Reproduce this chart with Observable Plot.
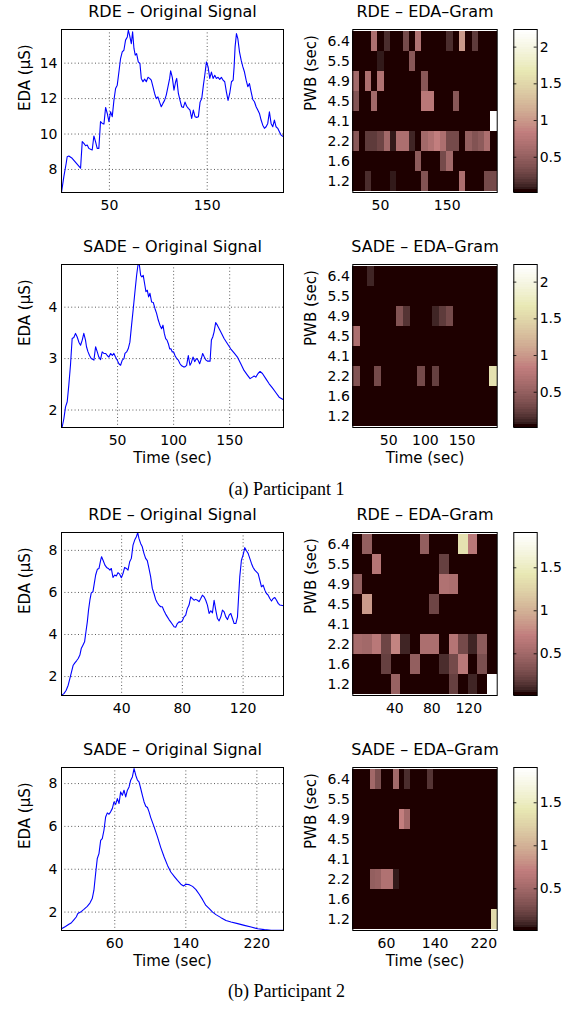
<!DOCTYPE html>
<html><head><meta charset="utf-8">
<script src="https://cdn.jsdelivr.net/npm/d3@7"></script>
<script src="https://cdn.jsdelivr.net/npm/@observablehq/plot@0.6"></script>
<style>
body{margin:0;background:#fff;}
#chart{position:relative;width:573px;height:1010px;overflow:hidden;font-family:"DejaVu Sans",sans-serif;}
#chart svg{position:absolute;}
.cap{position:absolute;left:0;width:573px;text-align:center;font-family:"Liberation Serif",serif;font-size:18px;line-height:18px;color:#000;}
</style></head><body><div id="chart"></div>
<script>
// ---------- Participant 1, RDE: original signal ----------
const p1RdeTime = [1.0,3.4,5.8,6.8,8.5,11.9,20.5,22.2,23.9,25.6,27.3,29.0,30.7,32.4,34.1,35.8,37.5,39.2,40.9,42.7,44.4,46.1,47.8,49.5,51.2,52.9,54.6,56.3,58.0,59.7,61.4,63.1,64.8,66.5,68.3,69.3,70.6,72.4,73.7,75.1,76.4,77.8,79.5,81.2,82.6,84.3,86.0,87.7,89.4,91.1,92.8,94.5,96.2,97.9,99.6,101.3,103.0,104.7,106.4,108.1,109.9,111.6,112.6,114.3,116.0,117.7,118.8,120.5,122.2,123.9,125.6,127.3,129.0,130.7,132.4,134.1,135.8,137.5,139.2,141.0,142.7,144.4,146.1,147.5,149.2,150.9,152.6,154.3,156.0,157.7,159.4,161.1,162.8,164.5,166.2,167.9,169.6,171.3,173.0,174.8,176.5,177.5,178.5,179.9,181.3,183.0,184.7,186.4,188.1,189.8,191.5,193.2,194.9,196.6,198.3,200.0,201.7,203.4,205.1,206.8,208.5,210.2,211.9,213.6,215.3,217.0,218.7,220.4,222.1,223.8,225.5,228.0];
const p1RdeEda = [6.71,7.6,8.35,8.72,8.76,8.63,8.07,9.57,9.47,9.34,9.38,9.19,9.14,9.1,9.89,9.57,9.19,9.19,10.7,10.6,10.56,11.5,11.16,10.7,11.26,10.98,11.9,12.57,12.76,13.5,14.26,14.64,14.73,15.3,15.48,15.86,15.58,15.1,15.77,14.83,14.45,14.54,14.07,13.98,13.14,12.95,13.1,12.95,13.2,13.14,13.04,12.67,12.29,12.0,12.1,11.8,11.54,11.73,11.9,12.2,12.67,13.14,13.57,13.2,12.48,12.95,13.14,12.29,11.9,11.54,11.5,11.8,11.57,11.45,11.35,10.88,11.35,10.98,10.94,10.98,11.8,12.0,12.76,13.32,14.07,13.79,13.14,13.5,13.14,13.32,13.14,13.2,13.08,13.2,13.04,12.95,12.38,11.9,12.29,12.95,13.04,13.79,14.92,15.67,15.39,14.64,14.17,13.8,13.5,13.04,12.67,12.85,12.38,11.95,11.82,11.54,11.35,11.16,10.79,10.5,10.32,10.41,10.6,11.26,10.6,10.41,10.79,10.41,10.32,10.13,9.94,9.85];

// ---------- Participant 1, SADE: original signal ----------
const p1SadeTime = [0.6,2.1,3.6,5.1,6.5,8.0,9.5,11.0,12.5,14.0,15.5,17.0,18.5,19.9,21.4,22.3,23.5,25.0,26.5,28.9,30.4,31.9,33.3,34.8,36.3,37.8,39.3,40.8,42.3,43.8,45.3,46.7,48.2,49.7,51.2,52.7,54.2,55.7,56.6,58.1,59.5,61.0,62.5,64.0,65.5,67.0,68.2,69.4,70.6,71.7,72.9,74.1,75.3,76.5,77.7,78.9,80.4,81.9,83.4,84.8,86.3,87.8,89.3,90.5,91.7,92.9,94.1,95.3,96.5,97.6,98.8,100.0,101.2,102.7,104.2,105.7,107.2,108.7,110.1,111.6,113.1,114.6,115.8,117.3,118.8,120.3,121.8,123.2,124.7,125.9,127.4,128.9,130.4,132.5,133.7,134.9,136.1,137.5,139.0,142.0,145.0,148.0,150.9,153.9,156.9,159.9,162.8,165.8,168.2,170.3,171.8,173.3,175.3,177.1,179.2,182.2,185.2,188.1,191.1,194.1,198.0];
const p1SadeEda = [1.67,1.83,2.06,2.16,2.48,2.87,3.39,3.41,3.49,3.42,3.32,3.26,3.36,3.49,3.36,3.23,3.14,3.06,3.0,2.97,3.23,3.13,3.03,2.98,3.13,3.1,3.1,3.06,3.03,3.1,3.06,3.1,3.03,2.97,2.9,2.87,2.97,3.0,3.1,3.13,3.19,3.32,3.65,3.97,4.3,4.62,4.82,4.83,4.62,4.59,4.62,4.46,4.3,4.33,4.2,4.27,4.1,4.09,3.97,3.88,3.75,3.65,3.58,3.65,3.49,3.39,3.36,3.29,3.19,3.19,3.13,3.13,3.06,3.0,2.97,2.9,2.86,2.84,2.84,2.87,3.06,2.87,2.92,3.03,2.94,3.0,2.97,2.9,3.0,3.1,3.03,2.97,2.95,2.95,3.36,3.42,3.52,3.7,3.65,3.52,3.39,3.29,3.19,3.11,3.03,2.9,2.77,2.68,2.61,2.64,2.66,2.64,2.71,2.75,2.71,2.61,2.51,2.43,2.34,2.25,2.2];

// ---------- Participant 2, RDE: original signal ----------
const p2RdeTime = [0.4,2.0,3.5,4.8,5.9,7.0,8.1,9.2,10.3,11.4,12.5,13.4,14.5,15.6,16.5,17.4,18.2,19.1,20.0,21.1,22.0,22.9,24.0,25.1,26.2,26.8,27.9,29.0,30.1,31.2,32.3,33.2,34.3,35.4,36.5,37.6,38.7,39.8,40.9,42.0,43.1,44.2,45.3,46.4,47.5,48.6,49.7,50.6,51.4,52.5,53.6,54.7,55.8,56.9,58.0,59.1,60.2,61.3,62.4,63.5,64.6,65.7,66.8,67.9,69.0,70.1,71.2,72.3,73.4,74.5,75.6,76.7,77.8,78.9,80.0,81.1,82.2,83.3,84.4,85.5,86.6,87.7,88.8,89.9,91.0,92.1,93.2,94.3,95.4,96.5,97.6,98.7,99.8,100.9,102.0,103.1,104.2,105.3,106.4,107.5,108.6,109.7,110.8,111.9,113.0,114.1,115.2,116.3,116.9,117.8,118.9,120.0,121.1,122.2,123.3,124.4,125.5,126.6,127.7,128.8,129.9,131.0,132.1,133.2,134.3,135.4,136.5,137.6,138.7,139.8,140.9,142.0,143.1,144.2,146.6];
const p2RdeEda = [1.11,1.19,1.35,1.59,1.9,2.22,2.54,2.65,2.75,2.86,3.02,3.33,3.49,3.65,4.13,4.6,5.16,5.63,5.98,6.03,6.43,6.83,7.1,7.14,7.54,7.7,7.51,7.3,7.19,7.14,7.06,7.14,6.71,6.83,6.78,6.94,6.87,6.7,6.9,7.19,7.14,7.06,7.46,7.62,8.25,8.49,8.65,8.84,8.57,8.33,8.17,7.86,7.62,7.51,7.14,6.75,6.19,5.95,5.67,5.51,5.4,5.32,5.32,5.13,4.97,4.84,4.71,4.6,4.49,4.37,4.35,4.52,4.6,4.59,4.65,4.84,4.92,5.24,5.4,5.79,5.71,5.63,5.67,5.63,5.56,5.71,5.87,5.79,5.63,5.4,5.0,5.13,5.03,5.63,5.16,4.76,4.65,4.84,5.16,5.08,4.84,4.71,4.92,5.0,4.76,4.52,4.52,4.84,5.63,6.75,7.54,7.78,8.13,7.98,7.86,7.62,7.38,7.19,7.06,6.98,6.9,6.59,6.27,6.35,6.11,5.95,5.87,5.71,5.59,5.71,5.76,5.63,5.48,5.4,5.37];

// ---------- Participant 2, SADE: original signal ----------
const p2SadeTime = [0,4.5,8.3,10.9,13.9,16.6,18.4,21.5,25.2,29.0,32.0,34.6,36.5,38.4,40.3,42.2,44.1,45.9,47.8,49.7,51.6,53.5,55.3,57.2,59.1,61.0,62.9,64.8,66.6,68.5,70.4,72.3,74.2,76.1,77.9,79.8,81.7,83.6,85.5,87.3,89.2,91.1,93.0,94.9,96.8,98.6,100.5,104.3,108.1,111.8,115.6,119.4,123.1,126.9,130.6,134.4,137.4,140.1,143.8,147.6,151.4,155.1,158.9,162.6,166.4,170.2,173.9,179.6,185.2,190.9,198.4,205.9,213.5,221.0,228.5,236.1,250.0];
const p2SadeEda = [1.22,1.33,1.43,1.49,1.64,1.77,1.93,2.0,2.13,2.27,2.42,2.63,3.02,3.79,4.5,4.73,5.35,5.43,5.82,6.44,6.63,6.57,6.68,6.83,7.14,7.03,7.3,7.07,7.61,7.45,7.69,7.38,7.69,7.84,8.16,8.31,8.7,8.39,8.16,8.08,7.77,7.45,7.14,6.94,6.88,6.68,6.41,5.98,5.51,5.01,4.57,4.18,3.87,3.67,3.48,3.3,3.22,3.3,3.28,3.2,3.05,2.83,2.58,2.31,2.16,2.0,1.88,1.74,1.61,1.54,1.46,1.38,1.3,1.22,1.18,1.15,1.15];

// ---------- EDA-Gram rows (PWB, sec), top to bottom ----------
const pwbRows = ["6.4","5.5","4.9","4.5","4.1","2.2","1.6","1.2"];

// Participant 1, RDE EDA-Gram (23 windows)
const hmP1Rde = [
  [0,0,0,.65,0,.15,0,0,.3,0,.7,0,0,0,0,.15,0,1.0,0,.22,0,0,0],
  [0,0,0,0,.08,0,0,0,0,.42,0,0,0,0,0,0,0,0,0,0,0,0,0],
  [.6,0,.65,0,.7,0,0,0,0,0,0,.42,0,0,0,0,0,0,0,0,0,0,0],
  [.38,0,0,.6,0,0,0,0,0,0,0,.75,.75,0,0,0,.42,0,0,0,0,0,0],
  [0,0,0,0,0,0,0,0,0,0,0,0,0,0,0,0,0,0,0,0,0,0,2.24],
  [.42,0,.22,.22,.27,.6,.08,.65,.65,.12,0,.6,.7,.85,.65,.3,.3,0,.5,.4,.45,.65,0],
  [0,0,0,0,0,0,0,0,0,0,.45,0,0,0,.3,.6,0,0,0,0,0,0,0],
  [0,0,.15,0,0,0,.08,0,0,0,0,.38,0,0,0,0,0,.65,0,0,0,.3,.3]
];
// Participant 1, SADE EDA-Gram (20 windows)
const hmP1Sade = [
  [0,0,.1,0,0,0,0,0,0,0,0,0,0,0,0,0,0,0,0,0],
  [0,0,0,0,0,0,0,0,0,0,0,0,0,0,0,0,0,0,0,0],
  [0,0,0,0,0,0,.4,.18,0,0,0,.12,.22,.3,0,0,0,0,0,0],
  [.65,0,0,0,0,0,0,0,0,0,0,0,0,0,0,0,0,0,0,0],
  [0,0,0,0,0,0,0,0,0,0,0,0,0,0,0,0,0,0,0,0],
  [.4,0,0,.3,0,0,0,0,0,.3,0,.25,0,0,0,0,0,0,0,1.6],
  [0,0,0,0,0,0,0,0,0,0,0,0,0,0,0,0,0,0,0,0],
  [0,0,0,0,0,0,0,0,0,0,0,0,0,0,0,0,0,0,0,0]
];
// Participant 2, RDE EDA-Gram (15 windows)
const hmP2Rde = [
  [0,.4,0,0,0,0,0,.4,0,0,0,1.36,.65,0,0],
  [0,0,.62,0,0,0,0,0,0,.2,0,0,0,0,0],
  [.4,0,0,0,0,0,0,0,0,.58,.55,0,0,0,0],
  [0,.85,0,0,0,0,0,0,.25,0,0,0,0,0,0],
  [0,0,0,0,0,0,0,0,0,0,0,0,0,0,0],
  [.52,.5,.65,.25,.75,.08,0,.56,.56,0,.62,.28,.08,.38,0],
  [0,0,0,.22,0,0,.42,0,0,.12,.28,.65,0,.3,0],
  [0,0,0,0,.45,0,0,0,0,0,.2,0,.1,0,1.91]
];
// Participant 2, SADE EDA-Gram (25 windows)
const hmP2Sade = [
  [0,0,0,.5,.3,0,0,.5,0,.12,0,0,0,.15,0,0,0,0,0,0,0,0,0,0,0],
  [0,0,0,0,0,0,0,0,0,0,0,0,0,0,0,0,0,0,0,0,0,0,0,0,0],
  [0,0,0,0,0,0,0,0,.72,.5,0,0,0,0,0,0,0,0,0,0,0,0,0,0,0],
  [0,0,0,0,0,0,0,0,0,0,0,0,0,0,0,0,0,0,0,0,0,0,0,0,0],
  [0,0,0,0,0,0,0,0,0,0,0,0,0,0,0,0,0,0,0,0,0,0,0,0,0],
  [0,0,0,.42,.45,.58,.58,.06,0,0,0,0,0,0,0,0,0,0,0,0,0,0,0,0,0],
  [0,0,0,0,0,0,0,0,0,0,0,0,0,0,0,0,0,0,0,0,0,0,0,0,0],
  [0,0,0,0,0,0,0,0,0,0,0,0,0,0,0,0,0,0,0,0,0,0,0,0,1.3]
];

// colour limits and ticks
const cLimP1 = [0.02, 2.24], cTicksP1 = [0.5, 1, 1.5, 2];
const cLimP2 = [0.015, 1.91], cTicksP2 = [0.5, 1, 1.5];

// MATLAB "pink" colormap, 64 levels
function pink(t) {
  const m = 64, n = 24;
  const i = Math.max(0, Math.min(m - 1, Math.floor(t * m)));
  const g = i / (m - 1);
  const hr = Math.min(1, (i + 1) / n);
  const hg = Math.max(0, Math.min(1, (i + 1 - n) / n));
  const hb = Math.max(0, Math.min(1, (i + 1 - 2 * n) / (m - 2 * n)));
  const f = h => Math.round(255 * Math.sqrt((2 * g + h) / 3));
  return `rgb(${f(hr)},${f(hg)},${f(hb)})`;
}
const FONT = "DejaVu Sans";
const fmt = d => String(d);
const baseStyle = {background: "none", fontFamily: FONT, fontSize: "14px", color: "#000", overflow: "visible"};
const H = 232, MT = 29, MB = 40;

function linePanel({time, eda, xDomain, yDomain, xTicks, yTicks, title, xLabel}) {
  const data = time.map((t, i) => ({t, v: eda[i]}));
  const grid = {stroke: "#333", strokeWidth: 0.8, strokeDasharray: "1,2.4"};
  const marks = [
    Plot.ruleX(xTicks, grid),
    Plot.ruleY(yTicks, grid),
    Plot.line(data, {x: "t", y: "v", stroke: "#0000ff", strokeWidth: 1.1}),
    Plot.frame({stroke: "#000", strokeWidth: 1}),
    Plot.text([title], {text: d => d, frameAnchor: "top", lineAnchor: "bottom", dy: -13, fontSize: 16}),
    Plot.text(["EDA (µS)"], {text: d => d, frameAnchor: "left", rotate: -90, dx: -36.5, fontSize: 15})
  ];
  if (xLabel) marks.push(Plot.text([xLabel], {text: d => d, frameAnchor: "bottom", lineAnchor: "bottom", dy: 35, fontSize: 15}));
  return Plot.plot({
    width: 290, height: H, marginLeft: 61, marginRight: 7, marginTop: MT, marginBottom: MB,
    style: baseStyle,
    x: {domain: xDomain, ticks: xTicks, tickFormat: fmt, tickSize: 0, tickPadding: 8, label: null},
    y: {domain: yDomain, ticks: yTicks, tickFormat: fmt, tickSize: 0, tickPadding: 4, label: null},
    marks
  });
}

function heatPanel({grid, x0, x1, xTicks, cLim, title, xLabel}) {
  const n = grid[0].length, w = (x1 - x0) / n;
  const cells = [];
  grid.forEach((r, j) => r.forEach((v, i) => cells.push({row: pwbRows[j], a: x0 + i * w, b: x0 + (i + 1) * w, v})));
  const marks = [
    Plot.barX(cells, {x1: "a", x2: "b", y: "row", fill: "v", inset: 0, shapeRendering: "crispEdges"}),
    Plot.frame({stroke: "#000", strokeWidth: 1}),
    Plot.text([title], {text: d => d, frameAnchor: "top", lineAnchor: "bottom", dy: -13, fontSize: 16}),
    Plot.text(["PWB (sec)"], {text: d => d, frameAnchor: "left", rotate: -90, dx: -42, fontSize: 15})
  ];
  if (xLabel) marks.push(Plot.text([xLabel], {text: d => d, frameAnchor: "bottom", lineAnchor: "bottom", dy: 35, fontSize: 15}));
  return Plot.plot({
    width: 210, height: H, marginLeft: 62.3, marginRight: 3.3, marginTop: MT, marginBottom: MB,
    style: baseStyle,
    x: {domain: [x0, x1], ticks: xTicks, tickFormat: fmt, tickSize: 0, tickPadding: 8, label: null},
    y: {domain: pwbRows, padding: 0, tickSize: 0, tickPadding: 3, label: null},
    color: {type: "linear", domain: cLim, interpolate: pink, clamp: true},
    marks
  });
}

function colorBar({cLim, ticks}) {
  const k = 64, step = (cLim[1] - cLim[0]) / k;
  const bins = d3.range(k).map(i => ({lo: cLim[0] + i * step, hi: cLim[0] + (i + 1) * step}));
  return Plot.plot({
    width: 73, height: H, marginLeft: 13.3, marginRight: 36.3, marginTop: MT, marginBottom: MB,
    style: baseStyle,
    x: {domain: [0, 1], axis: null},
    y: {domain: cLim, ticks, tickFormat: fmt, tickSize: 0, tickPadding: 2.5, axis: "right", label: null},
    color: {type: "linear", domain: cLim, interpolate: pink, clamp: true},
    marks: [
      Plot.rect(bins, {x1: 0, x2: 1, y1: "lo", y2: "hi", fill: d => (d.lo + d.hi) / 2, shapeRendering: "crispEdges"}),
      Plot.ruleY(ticks, {x1: 0, x2: 0.13, stroke: "#000", strokeWidth: 0.8}),
      Plot.ruleY(ticks, {x1: 0.87, x2: 1, stroke: "#000", strokeWidth: 0.8}),
      Plot.frame({stroke: "#000", strokeWidth: 1})
    ]
  });
}

const chart = document.getElementById("chart");
function place(svg, left, top) { svg.style.left = left + "px"; svg.style.top = top + "px"; chart.appendChild(svg); }

const rowsSpec = [
  {top: 0, line: {time: p1RdeTime, eda: p1RdeEda, xDomain: [1, 228], yDomain: [6.7, 15.9], xTicks: [50, 150], yTicks: [8, 10, 12, 14], title: "RDE – Original Signal"},
   heat: {grid: hmP1Rde, x0: 8.5, x1: 225, xTicks: [50, 150], cLim: cLimP1, title: "RDE – EDA–Gram"}, bar: {cLim: cLimP1, ticks: cTicksP1}},
  {top: 235, line: {time: p1SadeTime, eda: p1SadeEda, xDomain: [0, 198], yDomain: [1.66, 4.83], xTicks: [50, 100, 150], yTicks: [2, 3, 4], title: "SADE – Original Signal", xLabel: "Time (sec)"},
   heat: {grid: hmP1Sade, x0: 1, x1: 198, xTicks: [50, 100, 150], cLim: cLimP1, title: "SADE – EDA–Gram", xLabel: "Time (sec)"}, bar: {cLim: cLimP1, ticks: cTicksP1}},
  {top: 503, line: {time: p2RdeTime, eda: p2RdeEda, xDomain: [0.4, 146.6], yDomain: [1.1, 8.85], xTicks: [40, 80, 120], yTicks: [2, 4, 6, 8], title: "RDE – Original Signal"},
   heat: {grid: hmP2Rde, x0: -5.4, x1: 150.7, xTicks: [40, 80, 120], cLim: cLimP2, title: "RDE – EDA–Gram"}, bar: {cLim: cLimP2, ticks: cTicksP2}},
  {top: 738, line: {time: p2SadeTime, eda: p2SadeEda, xDomain: [0, 250], yDomain: [1.14, 8.75], xTicks: [60, 140, 220], yTicks: [2, 4, 6, 8], title: "SADE – Original Signal", xLabel: "Time (sec)"},
   heat: {grid: hmP2Sade, x0: 4.6, x1: 242, xTicks: [60, 140, 220], cLim: cLimP2, title: "SADE – EDA–Gram", xLabel: "Time (sec)"}, bar: {cLim: cLimP2, ticks: cTicksP2}}
];
for (const r of rowsSpec) {
  place(linePanel(r.line), 0, r.top);
  place(heatPanel(r.heat), 290, r.top);
  place(colorBar(r.bar), 500, r.top);
}
const captions = [["(a) Participant 1", 480], ["(b) Participant 2", 982]];
for (const [txt, top] of captions) {
  const d = document.createElement("div");
  d.className = "cap"; d.style.top = top + "px"; d.textContent = txt;
  chart.appendChild(d);
}
</script></body></html>
